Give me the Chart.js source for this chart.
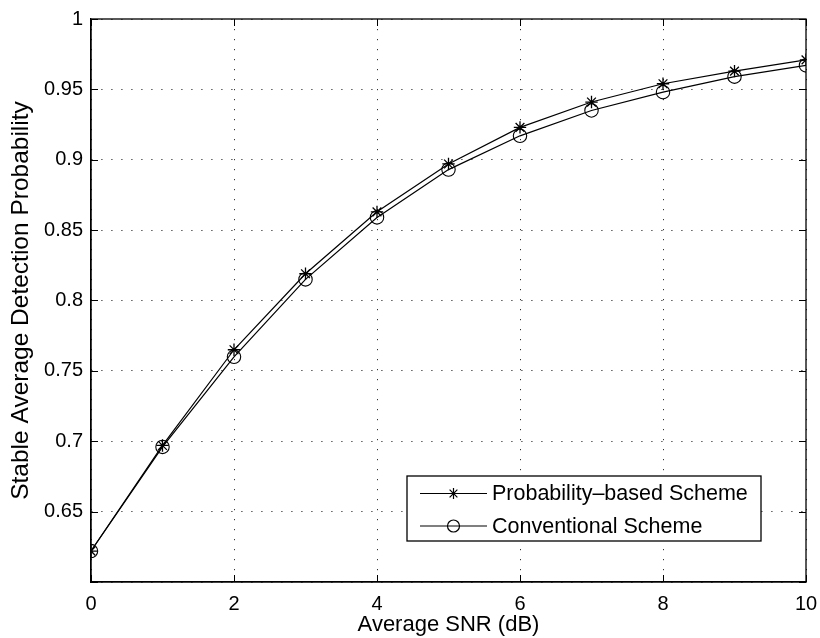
<!DOCTYPE html>
<html>
<head>
<meta charset="utf-8">
<script src="https://cdn.jsdelivr.net/npm/chart.js@4"></script>
<style>
  html, body { margin: 0; padding: 0; background: #fff; }
  #wrap { width: 820px; height: 638px; }
</style>
</head>
<body>
<div id="wrap"><canvas id="c" width="820" height="638"></canvas></div>
<script>
const snr = [0, 1, 2, 3, 4, 5, 6, 7, 8, 9, 10];
const probabilityBased = [0.622, 0.697, 0.765, 0.819, 0.863, 0.897, 0.923, 0.941, 0.954, 0.963, 0.971];
const conventional = [0.622, 0.696, 0.760, 0.815, 0.859, 0.893, 0.917, 0.935, 0.948, 0.959, 0.967];
const xTicks = [0, 2, 4, 6, 8, 10];
const yTicks = [0.6, 0.65, 0.7, 0.75, 0.8, 0.85, 0.9, 0.95, 1];
const seriesNames = ['Probability\u2013based Scheme', 'Conventional Scheme'];

const FONT = "'Liberation Sans', Arial, Helvetica, sans-serif";

const boxPlugin = {
  id: 'matlabBox',
  afterDatasetsDraw(chart) {
    const ctx = chart.ctx;
    const a = chart.chartArea;
    const xs = chart.scales.x, ys = chart.scales.y;
    ctx.save();
    ctx.strokeStyle = '#000';
    ctx.lineWidth = 1.3;
    ctx.strokeRect(a.left, a.top, a.right - a.left, a.bottom - a.top);
    ctx.lineWidth = 1;
    const tl = 7;
    ctx.beginPath();
    xTicks.forEach(v => {
      const px = Math.round(xs.getPixelForValue(v)) + 0.5;
      ctx.moveTo(px, a.bottom); ctx.lineTo(px, a.bottom - tl);
      ctx.moveTo(px, a.top); ctx.lineTo(px, a.top + tl);
    });
    yTicks.forEach(v => {
      const py = Math.round(ys.getPixelForValue(v)) + 0.5;
      ctx.moveTo(a.left, py); ctx.lineTo(a.left + tl, py);
      ctx.moveTo(a.right, py); ctx.lineTo(a.right - tl, py);
    });
    ctx.stroke();

    // legend
    const bw = 354, bh = 65;
    const bx = a.right - 45 - bw, by = a.bottom - 41 - bh;
    ctx.fillStyle = '#fff';
    ctx.fillRect(bx, by, bw, bh);
    ctx.lineWidth = 1.3;
    ctx.strokeStyle = '#000';
    ctx.strokeRect(bx, by, bw, bh);
    const rows = [by + 17.5, by + 50];
    chart.data.datasets.forEach((ds, i) => {
      const y = rows[i];
      ctx.beginPath();
      ctx.lineWidth = 1.2;
      ctx.strokeStyle = '#000';
      ctx.moveTo(bx + 13, y); ctx.lineTo(bx + 80, y);
      ctx.stroke();
      ctx.fillStyle = 'rgba(0,0,0,0)';
      ctx.strokeStyle = '#000';
      Chart.helpers.drawPoint(ctx, {
        pointStyle: ds.pointStyle, rotation: 0, radius: ds.legendRadius, borderWidth: 1.1
      }, bx + 46.5, y);
      ctx.fillStyle = '#000';
      ctx.font = '21.5px ' + FONT;
      ctx.textAlign = 'left';
      ctx.textBaseline = 'middle';
      ctx.fillText(ds.label, bx + 85, y + 1);
    });
    ctx.restore();
  }
};

new Chart(document.getElementById('c'), {
  type: 'line',
  data: {
    datasets: [
      {
        label: seriesNames[0],
        data: snr.map((x, i) => ({ x: x, y: probabilityBased[i] })),
        borderColor: '#000', borderWidth: 1.2,
        pointStyle: 'star', pointRadius: 6.2, pointBorderWidth: 1.3,
        pointBorderColor: '#000', pointBackgroundColor: 'rgba(0,0,0,0)',
        legendRadius: 5.5, fill: false, tension: 0
      },
      {
        label: seriesNames[1],
        data: snr.map((x, i) => ({ x: x, y: conventional[i] })),
        borderColor: '#000', borderWidth: 1.2,
        pointStyle: 'circle', pointRadius: 6.7, pointBorderWidth: 1.1,
        pointBorderColor: '#000', pointBackgroundColor: 'rgba(0,0,0,0)',
        legendRadius: 6, fill: false, tension: 0
      }
    ]
  },
  options: {
    responsive: false,
    animation: false,
    devicePixelRatio: 1,
    layout: { padding: { top: 19, right: 14, left: 0, bottom: 0 } },
    plugins: { legend: { display: false }, tooltip: { enabled: false } },
    elements: { point: { hoverRadius: 6 } },
    scales: {
      x: {
        type: 'linear', min: 0, max: 10,
        afterFit(s) { s.height = 56; s.paddingLeft = 0; s.paddingRight = 0; },
        afterBuildTicks(s) { s.ticks = xTicks.map(v => ({ value: v })); },
        ticks: { padding: 10, color: '#000', font: { family: FONT, size: 20 }, maxRotation: 0,
                 callback: v => String(v) },
        grid: { drawTicks: false, color: '#333', lineWidth: 1 },
        border: { display: true, color: '#000', width: 1.3, dash: [1.2, 8.8] },
        title: { display: true, text: 'Average SNR (dB)', color: '#000',
                 font: { family: FONT, size: 22 }, padding: { top: 0, bottom: 0 } }
      },
      y: {
        type: 'linear', min: 0.6, max: 1,
        afterFit(s) { s.width = 91; s.paddingTop = 0; s.paddingBottom = 0; },
        afterBuildTicks(s) { s.ticks = yTicks.map(v => ({ value: v })); },
        ticks: { padding: 8, color: '#000', font: { family: FONT, size: 20 },
                 callback: v => (Math.abs(v - 0.6) < 1e-9 ? '' : String(Math.round(v * 100) / 100)) },
        grid: { drawTicks: false, color: '#333', lineWidth: 1 },
        border: { display: true, color: '#000', width: 1.3, dash: [1.2, 8.8] },
        title: { display: true, text: 'Stable Average Detection Probability', color: '#000',
                 font: { family: FONT, size: 24.5 }, padding: { top: 7, bottom: 0 } }
      }
    }
  },
  plugins: [boxPlugin]
});
</script>
</body>
</html>
